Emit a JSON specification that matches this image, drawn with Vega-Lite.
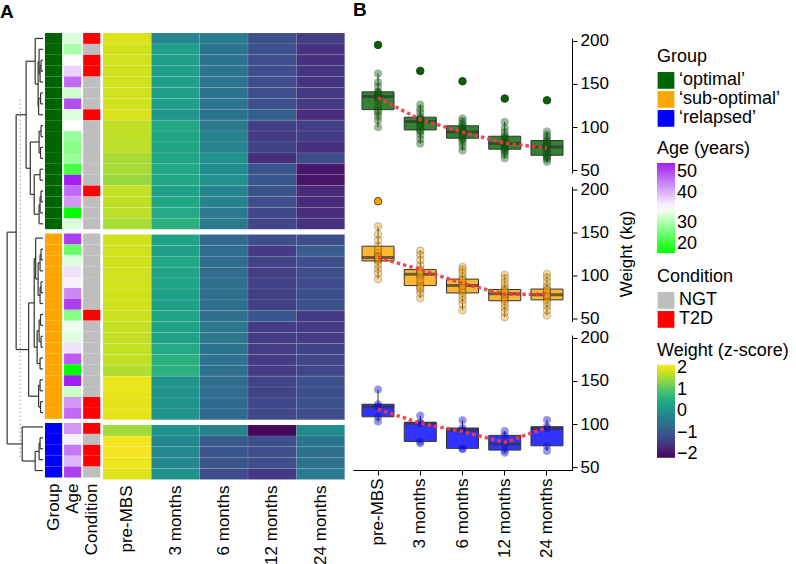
{
"$schema": "https://vega.github.io/schema/vega-lite/v6.json",
"padding": {"left": 0, "top": 0, "right": 0, "bottom": 0},
"background": "white",
"config": {
 "font": "Liberation Sans",
 "view": {"stroke": null},
 "axis": {"labelFontSize": 17, "titleFontSize": 17, "labelColor": "#000", "titleColor": "#000", "titleFontWeight": "normal", "domainColor": "#000", "tickColor": "#000", "grid": false},
 "legend": {"labelFontSize": 18, "titleFontSize": 18, "titleFontWeight": "normal", "labelColor": "#000", "titleColor": "#000", "titlePadding": 5, "labelOffset": 4, "gradientStrokeWidth": 0, "direction": "vertical"},
 "title": {"fontSize": 19, "fontWeight": "bold", "color": "#000", "anchor": "start"}
},
"datasets": {
 "obs": [
{"id":"o01","group":"‘optimal’","age":33,"condition":"T2D","time":"pre-MBS","weight":140,"z":1.93},
{"id":"o01","group":"‘optimal’","age":33,"condition":"T2D","time":"3 months","weight":110,"z":-0.2},
{"id":"o01","group":"‘optimal’","age":33,"condition":"T2D","time":"6 months","weight":100,"z":-0.38},
{"id":"o01","group":"‘optimal’","age":33,"condition":"T2D","time":"12 months","weight":88,"z":-1.1},
{"id":"o01","group":"‘optimal’","age":33,"condition":"T2D","time":"24 months","weight":83,"z":-1.4},
{"id":"o02","group":"‘optimal’","age":30,"condition":"NGT","time":"pre-MBS","weight":124,"z":1.85},
{"id":"o02","group":"‘optimal’","age":30,"condition":"NGT","time":"3 months","weight":99,"z":0.25},
{"id":"o02","group":"‘optimal’","age":30,"condition":"NGT","time":"6 months","weight":88,"z":-0.5},
{"id":"o02","group":"‘optimal’","age":30,"condition":"NGT","time":"12 months","weight":76,"z":-1.1},
{"id":"o02","group":"‘optimal’","age":30,"condition":"NGT","time":"24 months","weight":69,"z":-1.55},
{"id":"o03","group":"‘optimal’","age":35,"condition":"T2D","time":"pre-MBS","weight":195,"z":1.85},
{"id":"o03","group":"‘optimal’","age":35,"condition":"T2D","time":"3 months","weight":165,"z":0.25},
{"id":"o03","group":"‘optimal’","age":35,"condition":"T2D","time":"6 months","weight":153,"z":-0.5},
{"id":"o03","group":"‘optimal’","age":35,"condition":"T2D","time":"12 months","weight":133,"z":-1.15},
{"id":"o03","group":"‘optimal’","age":35,"condition":"T2D","time":"24 months","weight":131,"z":-1.55},
{"id":"o04","group":"‘optimal’","age":38,"condition":"T2D","time":"pre-MBS","weight":136,"z":1.85},
{"id":"o04","group":"‘optimal’","age":38,"condition":"T2D","time":"3 months","weight":107,"z":0.25},
{"id":"o04","group":"‘optimal’","age":38,"condition":"T2D","time":"6 months","weight":95,"z":-0.5},
{"id":"o04","group":"‘optimal’","age":38,"condition":"T2D","time":"12 months","weight":82,"z":-1.15},
{"id":"o04","group":"‘optimal’","age":38,"condition":"T2D","time":"24 months","weight":78,"z":-1.5},
{"id":"o05","group":"‘optimal’","age":45,"condition":"NGT","time":"pre-MBS","weight":113,"z":1.85},
{"id":"o05","group":"‘optimal’","age":45,"condition":"NGT","time":"3 months","weight":91,"z":0.25},
{"id":"o05","group":"‘optimal’","age":45,"condition":"NGT","time":"6 months","weight":82,"z":-0.5},
{"id":"o05","group":"‘optimal’","age":45,"condition":"NGT","time":"12 months","weight":71,"z":-1.15},
{"id":"o05","group":"‘optimal’","age":45,"condition":"NGT","time":"24 months","weight":65,"z":-1.5},
{"id":"o06","group":"‘optimal’","age":32,"condition":"NGT","time":"pre-MBS","weight":147,"z":1.85},
{"id":"o06","group":"‘optimal’","age":32,"condition":"NGT","time":"3 months","weight":117,"z":0.25},
{"id":"o06","group":"‘optimal’","age":32,"condition":"NGT","time":"6 months","weight":104,"z":-0.5},
{"id":"o06","group":"‘optimal’","age":32,"condition":"NGT","time":"12 months","weight":94,"z":-1.15},
{"id":"o06","group":"‘optimal’","age":32,"condition":"NGT","time":"24 months","weight":88,"z":-1.45},
{"id":"o07","group":"‘optimal’","age":47,"condition":"NGT","time":"pre-MBS","weight":133,"z":1.85},
{"id":"o07","group":"‘optimal’","age":47,"condition":"NGT","time":"3 months","weight":104,"z":0.25},
{"id":"o07","group":"‘optimal’","age":47,"condition":"NGT","time":"6 months","weight":92,"z":-0.5},
{"id":"o07","group":"‘optimal’","age":47,"condition":"NGT","time":"12 months","weight":80,"z":-1.1},
{"id":"o07","group":"‘optimal’","age":47,"condition":"NGT","time":"24 months","weight":75,"z":-1.45},
{"id":"o08","group":"‘optimal’","age":33,"condition":"T2D","time":"pre-MBS","weight":100,"z":1.9},
{"id":"o08","group":"‘optimal’","age":33,"condition":"T2D","time":"3 months","weight":81,"z":0.1},
{"id":"o08","group":"‘optimal’","age":33,"condition":"T2D","time":"6 months","weight":73,"z":-0.5},
{"id":"o08","group":"‘optimal’","age":33,"condition":"T2D","time":"12 months","weight":64,"z":-0.84},
{"id":"o08","group":"‘optimal’","age":33,"condition":"T2D","time":"24 months","weight":60,"z":-1.6},
{"id":"o09","group":"‘optimal’","age":35,"condition":"NGT","time":"pre-MBS","weight":162,"z":1.74},
{"id":"o09","group":"‘optimal’","age":35,"condition":"NGT","time":"3 months","weight":126,"z":0.42},
{"id":"o09","group":"‘optimal’","age":35,"condition":"NGT","time":"6 months","weight":110,"z":-0.42},
{"id":"o09","group":"‘optimal’","age":35,"condition":"NGT","time":"12 months","weight":106,"z":-1.35},
{"id":"o09","group":"‘optimal’","age":35,"condition":"NGT","time":"24 months","weight":95,"z":-1.35},
{"id":"o10","group":"‘optimal’","age":29,"condition":"NGT","time":"pre-MBS","weight":137,"z":1.74},
{"id":"o10","group":"‘optimal’","age":29,"condition":"NGT","time":"3 months","weight":108,"z":0.4},
{"id":"o10","group":"‘optimal’","age":29,"condition":"NGT","time":"6 months","weight":96,"z":-0.25},
{"id":"o10","group":"‘optimal’","age":29,"condition":"NGT","time":"12 months","weight":84,"z":-1.4},
{"id":"o10","group":"‘optimal’","age":29,"condition":"NGT","time":"24 months","weight":79,"z":-1.4},
{"id":"o11","group":"‘optimal’","age":28,"condition":"NGT","time":"pre-MBS","weight":119,"z":1.72},
{"id":"o11","group":"‘optimal’","age":28,"condition":"NGT","time":"3 months","weight":96,"z":0.4},
{"id":"o11","group":"‘optimal’","age":28,"condition":"NGT","time":"6 months","weight":87,"z":-0.25},
{"id":"o11","group":"‘optimal’","age":28,"condition":"NGT","time":"12 months","weight":74,"z":-1.3},
{"id":"o11","group":"‘optimal’","age":28,"condition":"NGT","time":"24 months","weight":67,"z":-1.55},
{"id":"o12","group":"‘optimal’","age":29,"condition":"NGT","time":"pre-MBS","weight":141,"z":1.6},
{"id":"o12","group":"‘optimal’","age":29,"condition":"NGT","time":"3 months","weight":112,"z":0.4},
{"id":"o12","group":"‘optimal’","age":29,"condition":"NGT","time":"6 months","weight":102,"z":0.0},
{"id":"o12","group":"‘optimal’","age":29,"condition":"NGT","time":"12 months","weight":90,"z":-1.6},
{"id":"o12","group":"‘optimal’","age":29,"condition":"NGT","time":"24 months","weight":85,"z":-1.2},
{"id":"o13","group":"‘optimal’","age":24,"condition":"NGT","time":"pre-MBS","weight":108,"z":1.6},
{"id":"o13","group":"‘optimal’","age":24,"condition":"NGT","time":"3 months","weight":86,"z":0.42},
{"id":"o13","group":"‘optimal’","age":24,"condition":"NGT","time":"6 months","weight":78,"z":-0.1},
{"id":"o13","group":"‘optimal’","age":24,"condition":"NGT","time":"12 months","weight":68,"z":-1.0},
{"id":"o13","group":"‘optimal’","age":24,"condition":"NGT","time":"24 months","weight":63,"z":-1.9},
{"id":"o14","group":"‘optimal’","age":50,"condition":"NGT","time":"pre-MBS","weight":135,"z":1.5},
{"id":"o14","group":"‘optimal’","age":50,"condition":"NGT","time":"3 months","weight":106,"z":0.42},
{"id":"o14","group":"‘optimal’","age":50,"condition":"NGT","time":"6 months","weight":94,"z":0.0},
{"id":"o14","group":"‘optimal’","age":50,"condition":"NGT","time":"12 months","weight":80,"z":-1.0},
{"id":"o14","group":"‘optimal’","age":50,"condition":"NGT","time":"24 months","weight":76,"z":-1.95},
{"id":"o15","group":"‘optimal’","age":45,"condition":"T2D","time":"pre-MBS","weight":152,"z":1.76},
{"id":"o15","group":"‘optimal’","age":45,"condition":"T2D","time":"3 months","weight":121,"z":0.3},
{"id":"o15","group":"‘optimal’","age":45,"condition":"T2D","time":"6 months","weight":107,"z":-0.2},
{"id":"o15","group":"‘optimal’","age":45,"condition":"T2D","time":"12 months","weight":99,"z":-1.05},
{"id":"o15","group":"‘optimal’","age":45,"condition":"T2D","time":"24 months","weight":91,"z":-1.65},
{"id":"o16","group":"‘optimal’","age":42,"condition":"NGT","time":"pre-MBS","weight":130,"z":1.74},
{"id":"o16","group":"‘optimal’","age":42,"condition":"NGT","time":"3 months","weight":102,"z":0.4},
{"id":"o16","group":"‘optimal’","age":42,"condition":"NGT","time":"6 months","weight":90,"z":-0.25},
{"id":"o16","group":"‘optimal’","age":42,"condition":"NGT","time":"12 months","weight":78,"z":-1.15},
{"id":"o16","group":"‘optimal’","age":42,"condition":"NGT","time":"24 months","weight":72,"z":-1.65},
{"id":"o17","group":"‘optimal’","age":20,"condition":"NGT","time":"pre-MBS","weight":117,"z":1.72},
{"id":"o17","group":"‘optimal’","age":20,"condition":"NGT","time":"3 months","weight":95,"z":0.45},
{"id":"o17","group":"‘optimal’","age":20,"condition":"NGT","time":"6 months","weight":85,"z":-0.42},
{"id":"o17","group":"‘optimal’","age":20,"condition":"NGT","time":"12 months","weight":73,"z":-1.25},
{"id":"o17","group":"‘optimal’","age":20,"condition":"NGT","time":"24 months","weight":66,"z":-1.6},
{"id":"o18","group":"‘optimal’","age":33,"condition":"NGT","time":"pre-MBS","weight":139,"z":1.6},
{"id":"o18","group":"‘optimal’","age":33,"condition":"NGT","time":"3 months","weight":109,"z":0.6},
{"id":"o18","group":"‘optimal’","age":33,"condition":"NGT","time":"6 months","weight":97,"z":-0.42},
{"id":"o18","group":"‘optimal’","age":33,"condition":"NGT","time":"12 months","weight":86,"z":-1.25},
{"id":"o18","group":"‘optimal’","age":33,"condition":"NGT","time":"24 months","weight":81,"z":-1.55},
{"id":"s01","group":"‘sub-optimal’","age":48,"condition":"NGT","time":"pre-MBS","weight":141,"z":1.85},
{"id":"s01","group":"‘sub-optimal’","age":48,"condition":"NGT","time":"3 months","weight":112,"z":0.3},
{"id":"s01","group":"‘sub-optimal’","age":48,"condition":"NGT","time":"6 months","weight":99,"z":-0.7},
{"id":"s01","group":"‘sub-optimal’","age":48,"condition":"NGT","time":"12 months","weight":88,"z":-1.15},
{"id":"s01","group":"‘sub-optimal’","age":48,"condition":"NGT","time":"24 months","weight":88,"z":-1.15},
{"id":"s02","group":"‘sub-optimal’","age":26,"condition":"NGT","time":"pre-MBS","weight":120,"z":1.85},
{"id":"s02","group":"‘sub-optimal’","age":26,"condition":"NGT","time":"3 months","weight":99,"z":0.3},
{"id":"s02","group":"‘sub-optimal’","age":26,"condition":"NGT","time":"6 months","weight":87,"z":-0.65},
{"id":"s02","group":"‘sub-optimal’","age":26,"condition":"NGT","time":"12 months","weight":77,"z":-1.45},
{"id":"s02","group":"‘sub-optimal’","age":26,"condition":"NGT","time":"24 months","weight":77,"z":-0.9},
{"id":"s03","group":"‘sub-optimal’","age":33,"condition":"NGT","time":"pre-MBS","weight":186,"z":1.85},
{"id":"s03","group":"‘sub-optimal’","age":33,"condition":"NGT","time":"3 months","weight":129,"z":0.42},
{"id":"s03","group":"‘sub-optimal’","age":33,"condition":"NGT","time":"6 months","weight":110,"z":-0.65},
{"id":"s03","group":"‘sub-optimal’","age":33,"condition":"NGT","time":"12 months","weight":101,"z":-1.3},
{"id":"s03","group":"‘sub-optimal’","age":33,"condition":"NGT","time":"24 months","weight":102,"z":-1.15},
{"id":"s04","group":"‘sub-optimal’","age":37,"condition":"NGT","time":"pre-MBS","weight":108,"z":1.85},
{"id":"s04","group":"‘sub-optimal’","age":37,"condition":"NGT","time":"3 months","weight":84,"z":0.35},
{"id":"s04","group":"‘sub-optimal’","age":37,"condition":"NGT","time":"6 months","weight":72,"z":-0.65},
{"id":"s04","group":"‘sub-optimal’","age":37,"condition":"NGT","time":"12 months","weight":63,"z":-1.35},
{"id":"s04","group":"‘sub-optimal’","age":37,"condition":"NGT","time":"24 months","weight":65,"z":-1.15},
{"id":"s05","group":"‘sub-optimal’","age":36,"condition":"NGT","time":"pre-MBS","weight":126,"z":1.85},
{"id":"s05","group":"‘sub-optimal’","age":36,"condition":"NGT","time":"3 months","weight":104,"z":0.35},
{"id":"s05","group":"‘sub-optimal’","age":36,"condition":"NGT","time":"6 months","weight":92,"z":-0.6},
{"id":"s05","group":"‘sub-optimal’","age":36,"condition":"NGT","time":"12 months","weight":81,"z":-1.3},
{"id":"s05","group":"‘sub-optimal’","age":36,"condition":"NGT","time":"24 months","weight":81,"z":-1.2},
{"id":"s06","group":"‘sub-optimal’","age":43,"condition":"NGT","time":"pre-MBS","weight":118,"z":1.85},
{"id":"s06","group":"‘sub-optimal’","age":43,"condition":"NGT","time":"3 months","weight":91,"z":0.3},
{"id":"s06","group":"‘sub-optimal’","age":43,"condition":"NGT","time":"6 months","weight":82,"z":-0.6},
{"id":"s06","group":"‘sub-optimal’","age":43,"condition":"NGT","time":"12 months","weight":73,"z":-1.35},
{"id":"s06","group":"‘sub-optimal’","age":43,"condition":"NGT","time":"24 months","weight":74,"z":-1.1},
{"id":"s07","group":"‘sub-optimal’","age":48,"condition":"NGT","time":"pre-MBS","weight":157,"z":1.85},
{"id":"s07","group":"‘sub-optimal’","age":48,"condition":"NGT","time":"3 months","weight":124,"z":0.3},
{"id":"s07","group":"‘sub-optimal’","age":48,"condition":"NGT","time":"6 months","weight":107,"z":-0.6},
{"id":"s07","group":"‘sub-optimal’","age":48,"condition":"NGT","time":"12 months","weight":97,"z":-1.35},
{"id":"s07","group":"‘sub-optimal’","age":48,"condition":"NGT","time":"24 months","weight":98,"z":-1.1},
{"id":"s08","group":"‘sub-optimal’","age":28,"condition":"T2D","time":"pre-MBS","weight":96,"z":1.82},
{"id":"s08","group":"‘sub-optimal’","age":28,"condition":"T2D","time":"3 months","weight":74,"z":0.35},
{"id":"s08","group":"‘sub-optimal’","age":28,"condition":"T2D","time":"6 months","weight":60,"z":-0.6},
{"id":"s08","group":"‘sub-optimal’","age":28,"condition":"T2D","time":"12 months","weight":52,"z":-1.0},
{"id":"s08","group":"‘sub-optimal’","age":28,"condition":"T2D","time":"24 months","weight":54,"z":-1.45},
{"id":"s09","group":"‘sub-optimal’","age":34,"condition":"NGT","time":"pre-MBS","weight":123,"z":1.78},
{"id":"s09","group":"‘sub-optimal’","age":34,"condition":"NGT","time":"3 months","weight":103,"z":0.3},
{"id":"s09","group":"‘sub-optimal’","age":34,"condition":"NGT","time":"6 months","weight":90,"z":-0.45},
{"id":"s09","group":"‘sub-optimal’","age":34,"condition":"NGT","time":"12 months","weight":80,"z":-1.4},
{"id":"s09","group":"‘sub-optimal’","age":34,"condition":"NGT","time":"24 months","weight":80,"z":-1.4},
{"id":"s10","group":"‘sub-optimal’","age":33,"condition":"NGT","time":"pre-MBS","weight":117,"z":1.78},
{"id":"s10","group":"‘sub-optimal’","age":33,"condition":"NGT","time":"3 months","weight":88.5,"z":0.3},
{"id":"s10","group":"‘sub-optimal’","age":33,"condition":"NGT","time":"6 months","weight":80,"z":-0.45},
{"id":"s10","group":"‘sub-optimal’","age":33,"condition":"NGT","time":"12 months","weight":71,"z":-1.4},
{"id":"s10","group":"‘sub-optimal’","age":33,"condition":"NGT","time":"24 months","weight":72,"z":-1.4},
{"id":"s11","group":"‘sub-optimal’","age":37,"condition":"NGT","time":"pre-MBS","weight":134,"z":1.76},
{"id":"s11","group":"‘sub-optimal’","age":37,"condition":"NGT","time":"3 months","weight":107,"z":0.45},
{"id":"s11","group":"‘sub-optimal’","age":37,"condition":"NGT","time":"6 months","weight":96,"z":-0.5},
{"id":"s11","group":"‘sub-optimal’","age":37,"condition":"NGT","time":"12 months","weight":84,"z":-1.4},
{"id":"s11","group":"‘sub-optimal’","age":37,"condition":"NGT","time":"24 months","weight":84.5,"z":-1.3},
{"id":"s12","group":"‘sub-optimal’","age":46,"condition":"NGT","time":"pre-MBS","weight":103,"z":1.75},
{"id":"s12","group":"‘sub-optimal’","age":46,"condition":"NGT","time":"3 months","weight":80,"z":0.55},
{"id":"s12","group":"‘sub-optimal’","age":46,"condition":"NGT","time":"6 months","weight":67,"z":-0.55},
{"id":"s12","group":"‘sub-optimal’","age":46,"condition":"NGT","time":"12 months","weight":58,"z":-1.4},
{"id":"s12","group":"‘sub-optimal’","age":46,"condition":"NGT","time":"24 months","weight":60,"z":-1.25},
{"id":"s13","group":"‘sub-optimal’","age":20,"condition":"NGT","time":"pre-MBS","weight":148,"z":1.65},
{"id":"s13","group":"‘sub-optimal’","age":20,"condition":"NGT","time":"3 months","weight":118,"z":0.6},
{"id":"s13","group":"‘sub-optimal’","age":20,"condition":"NGT","time":"6 months","weight":103,"z":-0.55},
{"id":"s13","group":"‘sub-optimal’","age":20,"condition":"NGT","time":"12 months","weight":92,"z":-1.4},
{"id":"s13","group":"‘sub-optimal’","age":20,"condition":"NGT","time":"24 months","weight":93,"z":-1.25},
{"id":"s14","group":"‘sub-optimal’","age":50,"condition":"NGT","time":"pre-MBS","weight":119,"z":2.0},
{"id":"s14","group":"‘sub-optimal’","age":50,"condition":"NGT","time":"3 months","weight":95,"z":0.05},
{"id":"s14","group":"‘sub-optimal’","age":50,"condition":"NGT","time":"6 months","weight":85,"z":-0.65},
{"id":"s14","group":"‘sub-optimal’","age":50,"condition":"NGT","time":"12 months","weight":75,"z":-1.3},
{"id":"s14","group":"‘sub-optimal’","age":50,"condition":"NGT","time":"24 months","weight":76,"z":-1.1},
{"id":"s15","group":"‘sub-optimal’","age":32,"condition":"NGT","time":"pre-MBS","weight":121,"z":2.0},
{"id":"s15","group":"‘sub-optimal’","age":32,"condition":"NGT","time":"3 months","weight":101.5,"z":0.05},
{"id":"s15","group":"‘sub-optimal’","age":32,"condition":"NGT","time":"6 months","weight":88.5,"z":-0.65},
{"id":"s15","group":"‘sub-optimal’","age":32,"condition":"NGT","time":"12 months","weight":79,"z":-1.3},
{"id":"s15","group":"‘sub-optimal’","age":32,"condition":"NGT","time":"24 months","weight":78,"z":-1.1},
{"id":"s16","group":"‘sub-optimal’","age":42,"condition":"T2D","time":"pre-MBS","weight":113,"z":1.98},
{"id":"s16","group":"‘sub-optimal’","age":42,"condition":"T2D","time":"3 months","weight":86,"z":0.05},
{"id":"s16","group":"‘sub-optimal’","age":42,"condition":"T2D","time":"6 months","weight":76,"z":-0.68},
{"id":"s16","group":"‘sub-optimal’","age":42,"condition":"T2D","time":"12 months","weight":67,"z":-1.25},
{"id":"s16","group":"‘sub-optimal’","age":42,"condition":"T2D","time":"24 months","weight":69,"z":-1.1},
{"id":"s17","group":"‘sub-optimal’","age":45,"condition":"T2D","time":"pre-MBS","weight":130,"z":1.98},
{"id":"s17","group":"‘sub-optimal’","age":45,"condition":"T2D","time":"3 months","weight":105,"z":0.05},
{"id":"s17","group":"‘sub-optimal’","age":45,"condition":"T2D","time":"6 months","weight":94,"z":-0.68},
{"id":"s17","group":"‘sub-optimal’","age":45,"condition":"T2D","time":"12 months","weight":82,"z":-1.25},
{"id":"s17","group":"‘sub-optimal’","age":45,"condition":"T2D","time":"24 months","weight":83,"z":-1.15},
{"id":"r01","group":"‘relapsed’","age":42,"condition":"T2D","time":"pre-MBS","weight":120,"z":1.55},
{"id":"r01","group":"‘relapsed’","age":42,"condition":"T2D","time":"3 months","weight":101,"z":0.05},
{"id":"r01","group":"‘relapsed’","age":42,"condition":"T2D","time":"6 months","weight":93,"z":-0.25},
{"id":"r01","group":"‘relapsed’","age":42,"condition":"T2D","time":"12 months","weight":77,"z":-2.1},
{"id":"r01","group":"‘relapsed’","age":42,"condition":"T2D","time":"24 months","weight":95,"z":-0.1},
{"id":"r02","group":"‘relapsed’","age":36,"condition":"NGT","time":"pre-MBS","weight":140,"z":2.1},
{"id":"r02","group":"‘relapsed’","age":36,"condition":"NGT","time":"3 months","weight":110,"z":-0.15},
{"id":"r02","group":"‘relapsed’","age":36,"condition":"NGT","time":"6 months","weight":104.5,"z":-0.95},
{"id":"r02","group":"‘relapsed’","age":36,"condition":"NGT","time":"12 months","weight":92,"z":-1.15},
{"id":"r02","group":"‘relapsed’","age":36,"condition":"NGT","time":"24 months","weight":105,"z":-0.5},
{"id":"r03","group":"‘relapsed’","age":44,"condition":"T2D","time":"pre-MBS","weight":108.5,"z":2.1},
{"id":"r03","group":"‘relapsed’","age":44,"condition":"T2D","time":"3 months","weight":80,"z":-0.15},
{"id":"r03","group":"‘relapsed’","age":44,"condition":"T2D","time":"6 months","weight":72,"z":-1.0},
{"id":"r03","group":"‘relapsed’","age":44,"condition":"T2D","time":"12 months","weight":70,"z":-1.15},
{"id":"r03","group":"‘relapsed’","age":44,"condition":"T2D","time":"24 months","weight":75,"z":-0.55},
{"id":"r04","group":"‘relapsed’","age":40,"condition":"T2D","time":"pre-MBS","weight":123,"z":2.05},
{"id":"r04","group":"‘relapsed’","age":40,"condition":"T2D","time":"3 months","weight":102,"z":-0.15},
{"id":"r04","group":"‘relapsed’","age":40,"condition":"T2D","time":"6 months","weight":95.5,"z":-1.0},
{"id":"r04","group":"‘relapsed’","age":40,"condition":"T2D","time":"12 months","weight":87,"z":-1.15},
{"id":"r04","group":"‘relapsed’","age":40,"condition":"T2D","time":"24 months","weight":97,"z":-0.55},
{"id":"r05","group":"‘relapsed’","age":48,"condition":"NGT","time":"pre-MBS","weight":103,"z":1.95},
{"id":"r05","group":"‘relapsed’","age":48,"condition":"NGT","time":"3 months","weight":78,"z":0.0},
{"id":"r05","group":"‘relapsed’","age":48,"condition":"NGT","time":"6 months","weight":71,"z":-1.15},
{"id":"r05","group":"‘relapsed’","age":48,"condition":"NGT","time":"12 months","weight":67,"z":-1.45},
{"id":"r05","group":"‘relapsed’","age":48,"condition":"NGT","time":"24 months","weight":69,"z":-0.42},
{"group":"‘optimal’","time":"pre-MBS","trend":133.8},
{"group":"‘optimal’","time":"3 months","trend":108.8},
{"group":"‘optimal’","time":"6 months","trend":94.2},
{"group":"‘optimal’","time":"12 months","trend":81.5},
{"group":"‘optimal’","time":"24 months","trend":75.8},
{"group":"‘sub-optimal’","time":"pre-MBS","trend":121},
{"group":"‘sub-optimal’","time":"3 months","trend":107},
{"group":"‘sub-optimal’","time":"6 months","trend":91},
{"group":"‘sub-optimal’","time":"12 months","trend":78.5},
{"group":"‘sub-optimal’","time":"24 months","trend":78.5},
{"group":"‘relapsed’","time":"pre-MBS","trend":117.3},
{"group":"‘relapsed’","time":"3 months","trend":101},
{"group":"‘relapsed’","time":"6 months","trend":91.5},
{"group":"‘relapsed’","time":"12 months","trend":78.8},
{"group":"‘relapsed’","time":"24 months","trend":96.2}
 ],
 "dendro": [
{"h1":0,"y1":2.5,"h2":0,"y2":3.5,"H":2},
{"h1":2,"y1":3.0,"h2":0,"y2":4.5,"H":3},
{"h1":0,"y1":1.5,"h2":3,"y2":3.75,"H":4},
{"h1":0,"y1":5.5,"h2":0,"y2":6.5,"H":2.5},
{"h1":2.5,"y1":6.0,"h2":0,"y2":7.5,"H":4.5},
{"h1":4,"y1":2.625,"h2":4.5,"y2":6.75,"H":5},
{"h1":0,"y1":0.5,"h2":5,"y2":4.6875,"H":8},
{"h1":0,"y1":8.5,"h2":0,"y2":9.5,"H":2},
{"h1":0,"y1":10.5,"h2":0,"y2":11.5,"H":2.5},
{"h1":2,"y1":9.0,"h2":2.5,"y2":11.0,"H":4},
{"h1":0,"y1":12.5,"h2":0,"y2":13.5,"H":3},
{"h1":0,"y1":14.5,"h2":0,"y2":15.5,"H":2},
{"h1":2,"y1":15.0,"h2":0,"y2":16.5,"H":3},
{"h1":3,"y1":15.75,"h2":0,"y2":17.5,"H":4},
{"h1":3,"y1":13.0,"h2":4,"y2":16.625,"H":9},
{"h1":4,"y1":10.0,"h2":9,"y2":14.81,"H":13},
{"h1":8,"y1":2.59,"h2":13,"y2":12.41,"H":17.3},
{"h1":0,"y1":19.82,"h2":0,"y2":20.82,"H":2},
{"h1":2,"y1":20.32,"h2":0,"y2":21.82,"H":3},
{"h1":0,"y1":22.82,"h2":0,"y2":23.82,"H":2},
{"h1":2,"y1":23.32,"h2":0,"y2":24.82,"H":3},
{"h1":3,"y1":21.07,"h2":3,"y2":24.07,"H":5},
{"h1":0,"y1":18.82,"h2":5,"y2":22.57,"H":7.5},
{"h1":0,"y1":25.82,"h2":0,"y2":26.82,"H":2.5},
{"h1":0,"y1":27.82,"h2":0,"y2":28.82,"H":2},
{"h1":2.5,"y1":26.32,"h2":2,"y2":28.32,"H":4},
{"h1":0,"y1":29.82,"h2":0,"y2":30.82,"H":3},
{"h1":4,"y1":27.32,"h2":3,"y2":30.32,"H":6},
{"h1":7.5,"y1":20.695,"h2":6,"y2":28.82,"H":9},
{"h1":0,"y1":31.82,"h2":0,"y2":32.82,"H":3},
{"h1":0,"y1":33.82,"h2":0,"y2":34.82,"H":2.5},
{"h1":3,"y1":32.32,"h2":2.5,"y2":34.32,"H":4.5},
{"h1":9,"y1":24.76,"h2":4.5,"y2":33.32,"H":14.7},
{"h1":17.3,"y1":7.5,"h2":14.7,"y2":29.04,"H":27.5},
{"h1":0,"y1":37.14,"h2":0,"y2":38.14,"H":3},
{"h1":3,"y1":37.64,"h2":0,"y2":39.14,"H":4},
{"h1":4,"y1":38.39,"h2":0,"y2":40.14,"H":8},
{"h1":0,"y1":36.14,"h2":8,"y2":39.265,"H":21.3},
{"h1":27.5,"y1":18.27,"h2":21.3,"y2":37.70,"H":36.7}
 ],
 "cut": [{"H": 23.3, "y1": 6.1, "y2": 39}]
},
"spacing": 8,
"resolve": {"scale": {"color": "independent"}},
"hconcat": [
 {
  "title": {"text": "A", "offset": 11},
  "spacing": 1,
  "resolve": {"scale": {"color": "independent"}},
  "hconcat": [
   {
    "spacing": 0,
    "resolve": {"scale": {"color": "independent"}},
    "hconcat": [
     {
      "width": 43, "height": 443,
      "data": {"name": "dendro"},
      "layer": [
       {"mark": {"type": "rule", "color": "#333333", "strokeWidth": 1.2},
        "encoding": {
         "x": {"field": "H", "type": "quantitative", "scale": {"domain": [0, 44], "reverse": true, "nice": false, "zero": false}, "axis": null},
         "y": {"field": "y1", "type": "quantitative", "scale": {"domain": [0, 40.64], "reverse": true, "nice": false, "zero": false}, "axis": null},
         "y2": {"field": "y2"}}},
       {"mark": {"type": "rule", "color": "#333333", "strokeWidth": 1.2},
        "encoding": {
         "x": {"field": "h1", "type": "quantitative", "axis": null},
         "x2": {"field": "H"},
         "y": {"field": "y1", "type": "quantitative", "axis": null}}},
       {"mark": {"type": "rule", "color": "#333333", "strokeWidth": 1.2},
        "encoding": {
         "x": {"field": "h2", "type": "quantitative", "axis": null},
         "x2": {"field": "H"},
         "y": {"field": "y2", "type": "quantitative", "axis": null}}},
       {"data": {"name": "cut"},
        "mark": {"type": "rule", "color": "#999999", "strokeWidth": 1, "strokeDash": [1.5, 2.5]},
        "encoding": {
         "x": {"field": "H", "type": "quantitative", "axis": null},
         "y": {"field": "y1", "type": "quantitative", "axis": null},
         "y2": {"field": "y2"}}}
      ]
     },
     {
      "data": {"name": "obs"},
      "transform": [{"filter": {"and": [{"field": "z", "valid": true}, {"field": "time", "equal": "pre-MBS"}]}}],
      "facet": {"row": {"field": "group", "type": "nominal", "sort": ["‘optimal’", "‘sub-optimal’", "‘relapsed’"], "header": {"title": null, "labels": false}}},
      "spacing": 3.5,
      "resolve": {"scale": {"y": "independent"}},
      "spec": {
       "width": 55.3,
       "height": {"step": 10.9},
       "resolve": {"scale": {"color": "independent"}},
       "layer": [
        {"mark": {"type": "rect"},
         "encoding": {
          "x": {"datum": "Group", "type": "nominal", "scale": {"domain": ["Group", "Age", "Condition"], "paddingInner": 0.1, "paddingOuter": 0}, "axis": {"labelAngle": -90, "domain": false, "ticks": false, "labelPadding": 5, "title": null}, "title": null},
          "y": {"field": "id", "type": "nominal", "sort": null, "axis": null, "scale": {"paddingInner": 0, "paddingOuter": 0}},
          "color": {"field": "group", "type": "nominal", "scale": {"domain": ["‘optimal’", "‘sub-optimal’", "‘relapsed’"], "range": ["#006400", "#ffa500", "#0000ff"]}, "legend": null}}},
        {"mark": {"type": "rect"},
         "encoding": {
          "x": {"datum": "Age", "type": "nominal", "title": null},
          "y": {"field": "id", "type": "nominal", "sort": null, "axis": null},
          "color": {"field": "age", "type": "quantitative", "scale": {"domain": [20, 35, 50], "range": ["#00ff00", "#ffffff", "#a020f0"], "interpolate": "rgb"}, "legend": null}}},
        {"mark": {"type": "rect"},
         "encoding": {
          "x": {"datum": "Condition", "type": "nominal", "title": null},
          "y": {"field": "id", "type": "nominal", "sort": null, "axis": null},
          "color": {"field": "condition", "type": "nominal", "scale": {"domain": ["NGT", "T2D"], "range": ["#bebebe", "#ff0000"]}, "legend": null}}}
       ]
      }
     }
    ]
   },
   {
    "data": {"name": "obs"},
    "transform": [{"filter": {"field": "z", "valid": true}}],
    "facet": {"row": {"field": "group", "type": "nominal", "sort": ["‘optimal’", "‘sub-optimal’", "‘relapsed’"], "header": {"title": null, "labels": false}}},
    "spacing": 3.5,
    "resolve": {"scale": {"y": "independent"}},
    "spec": {
     "width": 241.7,
     "height": {"step": 10.9},
     "mark": {"type": "rect", "stroke": "#ffffff", "strokeWidth": 0.5, "strokeOpacity": 0.2},
     "encoding": {
      "x": {"field": "time", "type": "nominal", "scale": {"domain": ["pre-MBS", "3 months", "6 months", "12 months", "24 months"], "paddingInner": 0, "paddingOuter": 0}, "axis": {"labelAngle": -90, "domain": false, "ticks": false, "labelPadding": 5, "title": null}},
      "y": {"field": "id", "type": "nominal", "sort": null, "axis": null, "scale": {"paddingInner": 0, "paddingOuter": 0}},
      "color": {"field": "z", "type": "quantitative", "scale": {"scheme": "viridis", "domain": [-2.15, 2.15]}, "legend": null}
     }
    }
   }
  ]
 },
 {
  "title": {"text": "B", "offset": 11},
  "spacing": -6,
  "vconcat": [
   {"width": 219, "height": 1, "data": {"values": [{"k": 1}]}, "mark": {"type": "point", "opacity": 0}, "encoding": {}},
   {
    "data": {"name": "obs"},
    "facet": {"row": {"field": "group", "type": "nominal", "sort": ["‘optimal’", "‘sub-optimal’", "‘relapsed’"], "header": {"labels": false, "title": "Weight (kg)", "titleOrient": "right", "titleAngle": 270, "titleFontSize": 17, "titleFontWeight": "normal", "titleColor": "#000", "titlePadding": 0}}},
    "spacing": 11.5,
    "spec": {
     "width": 219,
     "height": 135,
     "layer": [
      {"transform": [{"filter": {"field": "weight", "valid": true}}],
       "mark": {"type": "boxplot", "extent": 1.5, "size": 32,
        "box": {"stroke": "#333333", "strokeWidth": 1, "fillOpacity": 0.8},
        "median": {"color": "#333333", "thickness": 3},
        "rule": {"color": "#333333", "strokeWidth": 1},
        "outliers": {"opacity": 1, "size": 56, "filled": true, "stroke": "#333333", "strokeWidth": 0.8}},
       "encoding": {
        "x": {"field": "time", "type": "nominal", "scale": {"type": "band", "domain": ["pre-MBS", "3 months", "6 months", "12 months", "24 months"], "paddingInner": 0.225, "paddingOuter": 0.205}, "axis": {"labelAngle": -90, "tickSize": 5, "labelPadding": 3, "title": null}},
        "y": {"field": "weight", "type": "quantitative", "scale": {"domain": [47, 203], "nice": false, "zero": false}, "axis": {"orient": "right", "values": [50, 100, 150, 200], "tickSize": 5, "labelPadding": 3, "title": null}, "title": null},
        "color": {"field": "group", "type": "nominal", "scale": {"domain": ["‘optimal’", "‘sub-optimal’", "‘relapsed’"], "range": ["#006400", "#ffa500", "#0000ff"]}, "legend": null}}},
      {"transform": [{"filter": {"field": "weight", "valid": true}}],
       "mark": {"type": "point", "filled": true, "size": 56, "opacity": 0.42, "stroke": "#333333", "strokeWidth": 0.8},
       "encoding": {
        "x": {"field": "time", "type": "nominal", "scale": {"type": "band", "domain": ["pre-MBS", "3 months", "6 months", "12 months", "24 months"]}},
        "y": {"field": "weight", "type": "quantitative", "title": null},
        "color": {"field": "group", "type": "nominal", "legend": null}}},
      {"transform": [{"filter": {"field": "trend", "valid": true}}],
       "mark": {"type": "line", "color": "#f03a47", "strokeWidth": 3.5, "strokeDash": [3.5, 3], "opacity": 0.9},
       "encoding": {
        "x": {"field": "time", "type": "nominal", "scale": {"type": "band", "domain": ["pre-MBS", "3 months", "6 months", "12 months", "24 months"]}},
        "y": {"field": "trend", "type": "quantitative", "title": null}}}
     ]
    }
   }
  ]
 },
 {
  "width": 10,
  "height": 10,
  "data": {"name": "obs"},
  "transform": [{"filter": {"field": "z", "valid": true}}],
  "resolve": {"scale": {"color": "independent"}},
  "layer": [
   {"mark": {"type": "square", "opacity": 0},
    "encoding": {
     "color": {"field": "group", "type": "nominal", "scale": {"domain": ["‘optimal’", "‘sub-optimal’", "‘relapsed’"], "range": ["#006400", "#ffa500", "#0000ff"]},
      "legend": {"title": "Group", "orient": "none", "legendX": 14, "legendY": 15.4, "symbolType": "square", "symbolSize": 280, "symbolOpacity": 1, "symbolStrokeWidth": 0, "rowPadding": 1}}}},
   {"mark": {"type": "point", "opacity": 0},
    "encoding": {
     "color": {"field": "age", "type": "quantitative", "scale": {"domain": [20, 35, 50], "range": ["#00ff00", "#ffffff", "#a020f0"], "interpolate": "rgb"},
      "legend": {"title": "Age (years)", "orient": "none", "legendX": 14, "legendY": 107, "gradientLength": 90, "gradientThickness": 18, "values": [20, 30, 40, 50]}}}},
   {"mark": {"type": "square", "opacity": 0},
    "encoding": {
     "color": {"field": "condition", "type": "nominal", "scale": {"domain": ["NGT", "T2D"], "range": ["#bebebe", "#ff0000"]},
      "legend": {"title": "Condition", "orient": "none", "legendX": 14, "legendY": 235.4, "symbolType": "square", "symbolSize": 280, "symbolOpacity": 1, "symbolStrokeWidth": 0, "rowPadding": 1}}}},
   {"mark": {"type": "point", "opacity": 0},
    "encoding": {
     "color": {"field": "z", "type": "quantitative", "scale": {"scheme": "viridis", "domain": [-2.15, 2.15]},
      "legend": {"title": "Weight (z-score)", "orient": "none", "legendX": 14, "legendY": 308.7, "gradientLength": 93, "gradientThickness": 18, "values": [-2, -1, 0, 1, 2]}}}}
  ]
 }
]
}
